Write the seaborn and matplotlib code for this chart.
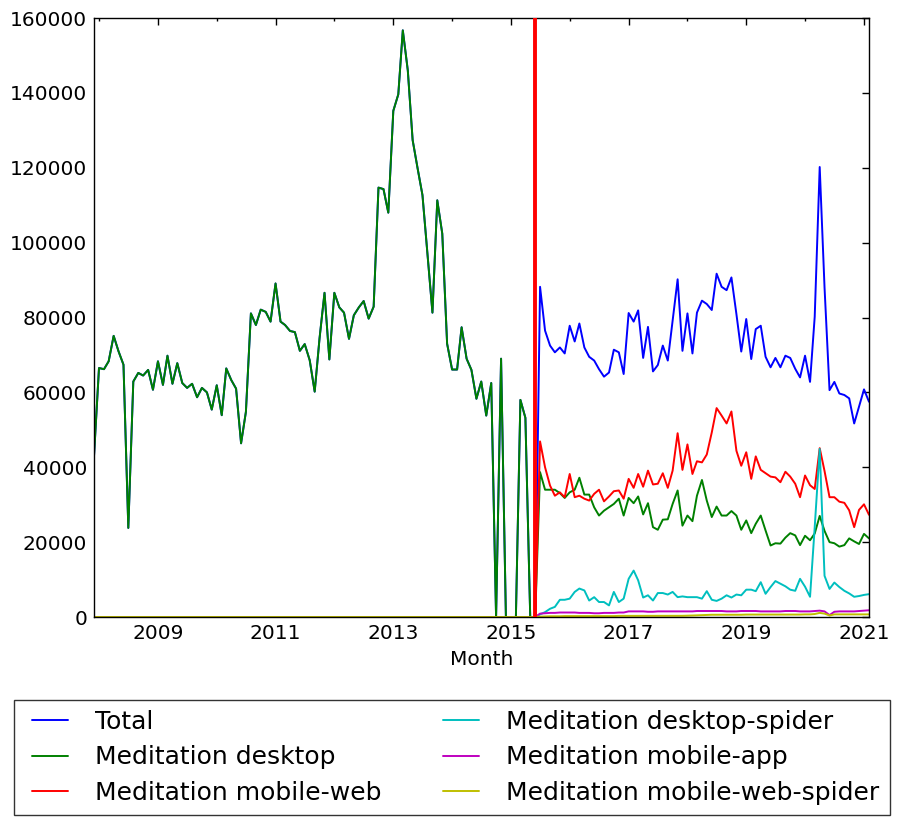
import numpy as np
import pandas as pd
import matplotlib
matplotlib.use("Agg")
import matplotlib.pyplot as plt
import matplotlib.dates as mdates
from matplotlib.ticker import FixedLocator, MultipleLocator, StrMethodFormatter
from matplotlib.legend_handler import HandlerLine2D
import seaborn as sns

# ---------------- data ----------------
series_names = ["Total", "Meditation desktop", "Meditation mobile-web",
                "Meditation desktop-spider", "Meditation mobile-app",
                "Meditation mobile-web-spider"]
series_colors = ["b", "g", "r", "c", "m", "y"]

legacy_start = "2007-12-01"
new_start = "2015-07-01"
cutover_date = "2015-06-01"

# legacy (desktop only, Total == desktop) 2007-12 .. 2015-06
legacy_views = [
    43000,
    66500, 66200, 68300, 75100, 71000, 67400, 23800, 62900, 65200, 64500, 66000, 60700,
    68300, 62000, 69800, 62300, 67800, 62500, 61200, 62300, 58700, 61200, 60000, 55400,
    61900, 53900, 66400, 63300, 61000, 46400, 54800, 81100, 78000, 82100, 81500, 78900,
    89100, 78900, 78000, 76400, 76100, 71100, 72900, 68600, 60200, 74400, 86600, 68800,
    86600, 82700, 81300, 74300, 80600, 82700, 84400, 79700, 82900, 114700, 114300, 108000,
    135200, 139600, 156700, 146000, 127400, 119800, 112700, 97100, 81300, 111300, 102400, 73000,
    66100, 66100, 77400, 69000, 66000, 58300, 62900, 53800, 62500, 0, 69000, 0,
    0, 0, 58000, 53200, 0, 0,
]

# new API data 2015-07 .. 2021-02
total_new = [
    88200, 76500, 72500, 70700, 72000, 70400,
    77800, 73600, 78400, 72000, 69500, 68500, 66200, 64200, 65300, 71400, 70700, 64900,
    81200, 78900, 81900, 69200, 77500, 65600, 67300, 72500, 68500, 79100, 90200, 71100,
    81100, 70400, 81300, 84500, 83600, 82000, 91700, 88200, 87300, 90700, 80900, 70900,
    79600, 68900, 76900, 77800, 69500, 66700, 69200, 66700, 69800, 69200, 66300, 64000,
    69800, 62800, 80200, 120200, 88000, 60600, 62800, 59700, 59300, 58400, 51700, 56200,
    60800, 57500,
]
desktop_new = [
    38700, 34000, 34000, 34000, 33100, 31800,
    33300, 34000, 37200, 32700, 32700, 29300, 27100, 28400, 29300, 30200, 31600, 27100,
    31800, 30400, 32200, 27400, 30400, 24000, 23300, 26000, 26100, 30200, 33800, 24400,
    27100, 25600, 32400, 36600, 31100, 26700, 29500, 27100, 27100, 28300, 27100, 23300,
    25800, 22400, 24900, 27100, 23100, 19100, 19700, 19600, 21200, 22400, 21800, 19200,
    21700, 20500, 22300, 27000, 23000, 20000, 19700, 18800, 19200, 21000, 20200, 19500,
    22200, 21000,
]
mobile_web_new = [
    46900, 40000, 35100, 32400, 33300, 32000,
    38200, 32000, 32400, 31600, 31100, 32900, 34000, 30900, 32200, 33600, 33800, 31600,
    36900, 34500, 38200, 34800, 39100, 35400, 35600, 38400, 34500, 39100, 49100, 39300,
    46100, 38200, 41600, 41300, 43400, 49300, 55800, 53800, 51700, 54900, 44400, 40400,
    44000, 36900, 42900, 39300, 38400, 37500, 37300, 36000, 38800, 37500, 35600, 32000,
    37800, 35200, 34200, 45100, 39000, 32000, 32000, 30800, 30500, 28500, 24000, 28600,
    30100, 27300,
]
desktop_spider_new = [
    700, 1300, 2200, 2700, 4600, 4600,
    4900, 6700, 7600, 7100, 4400, 5300, 4000, 4000, 3100, 6700, 4000, 4900,
    10200, 12400, 9800, 5200, 5800, 4400, 6400, 6400, 6000, 6700, 5300, 5500,
    5300, 5300, 5300, 4900, 6900, 4600, 4300, 4900, 5800, 5200, 6000, 5800,
    7300, 7300, 6900, 9300, 6200, 8000, 9600, 8900, 8200, 7300, 7000, 10200,
    8100, 5400, 24000, 44900, 11000, 7500, 9200, 8000, 7000, 6300, 5400, 5600,
    5900, 6100,
]
mobile_app_new = [
    900, 1000, 1100, 1100, 1200, 1200,
    1200, 1200, 1100, 1100, 1100, 1000, 1000, 1100, 1100, 1100, 1200, 1200,
    1500, 1500, 1500, 1500, 1400, 1400, 1500, 1500, 1500, 1500, 1500, 1500,
    1500, 1500, 1600, 1600, 1600, 1600, 1600, 1600, 1500, 1500, 1500, 1600,
    1600, 1600, 1600, 1500, 1500, 1500, 1500, 1500, 1600, 1600, 1600, 1500,
    1500, 1500, 1600, 1700, 1500, 500, 1400, 1500, 1500, 1500, 1500, 1600,
    1700, 1800,
]
mobile_web_spider_new = [
    100, 150, 200, 200, 200, 250,
    250, 250, 250, 250, 250, 250, 250, 250, 250, 250, 300, 300,
    300, 300, 300, 300, 300, 300, 300, 300, 300, 320, 320, 320,
    350, 400, 450, 500, 550, 600, 600, 600, 600, 600, 600, 600,
    650, 650, 650, 650, 650, 650, 650, 650, 650, 650, 650, 650,
    700, 700, 800, 1100, 900, 400, 700, 700, 700, 700, 700, 700,
    700, 700,
]

x_tick_years = [2009, 2011, 2013, 2015, 2017, 2019, 2021]

# ---------------- build table ----------------
legacy_dates = pd.date_range(legacy_start, periods=len(legacy_views), freq="MS")
new_dates = pd.date_range(new_start, periods=len(total_new), freq="MS")
dates = legacy_dates.append(new_dates)
zeros_legacy = [0] * len(legacy_views)

values = {
    "Total": legacy_views + total_new,
    "Meditation desktop": legacy_views + desktop_new,
    "Meditation mobile-web": zeros_legacy + mobile_web_new,
    "Meditation desktop-spider": zeros_legacy + desktop_spider_new,
    "Meditation mobile-app": zeros_legacy + mobile_app_new,
    "Meditation mobile-web-spider": zeros_legacy + mobile_web_spider_new,
}
frames = []
for name in series_names:
    frames.append(pd.DataFrame({"Month": dates, "Views": values[name], "Series": name}))
df = pd.concat(frames, ignore_index=True)

# ---------------- plot ----------------
sns.set_style("white")
plt.rcParams["font.family"] = ["DejaVu Sans"]
for key in ["text.color", "axes.labelcolor", "xtick.color", "ytick.color", "axes.edgecolor"]:
    plt.rcParams[key] = "black"
plt.rcParams["axes.linewidth"] = 1.0

fig = plt.figure(figsize=(9.01, 8.23), dpi=100)
fig.patch.set_facecolor("white")
ax = fig.add_axes([0.10433, 0.2503, 0.86015, 0.72782])

sns.lineplot(data=df, x="Month", y="Views", hue="Series", hue_order=series_names,
             palette=series_colors, linewidth=1.4, estimator=None, ax=ax)

ax.axvline(pd.Timestamp(cutover_date), color="red", linewidth=2.8, zorder=5)

ax.set_xlim(dates[0], dates[-1])
ax.set_ylim(0, 160000)
ax.yaxis.set_major_locator(MultipleLocator(20000))
ax.yaxis.set_major_formatter(StrMethodFormatter("{x:.0f}"))

major_dates = [mdates.date2num(pd.Timestamp(f"{y}-01-01")) for y in x_tick_years]
ax.xaxis.set_major_locator(FixedLocator(major_dates))
ax.xaxis.set_major_formatter(mdates.DateFormatter("%Y"))
ax.xaxis.set_minor_locator(mdates.YearLocator(1))

ax.tick_params(axis="both", which="both", direction="in", top=True, right=True,
               colors="black", labelcolor="black", labelsize=14.5, pad=5)
ax.tick_params(axis="both", which="major", length=5, width=1)
ax.tick_params(axis="x", which="minor", length=2.5, width=1)
ax.set_xlabel("Month", fontsize=14.5, labelpad=5, color="black")
ax.set_ylabel("")
for s in ax.spines.values():
    s.set_visible(True)
    s.set_color("black")
    s.set_linewidth(1.0)

handles, labels = ax.get_legend_handles_labels()
if ax.get_legend() is not None:
    ax.get_legend().remove()
leg = fig.legend(handles, labels, ncol=2, loc="upper left",
                 bbox_to_anchor=(0.0155, 0.0, 0.972, 0.1495), mode="expand",
                 frameon=True, fancybox=False, fontsize=18, handlelength=1.76,
                 handletextpad=1.08, labelspacing=0.46, borderpad=0.4,
                 borderaxespad=0.0, labelcolor="black",
                 handler_map={h: HandlerLine2D(xpad=0.32) for h in handles})
leg.get_frame().set_edgecolor("black")
leg.get_frame().set_linewidth(1.0)
for h in leg.get_lines():
    h.set_linewidth(1.4)

fig.savefig("out.png", dpi=100, facecolor="white")
